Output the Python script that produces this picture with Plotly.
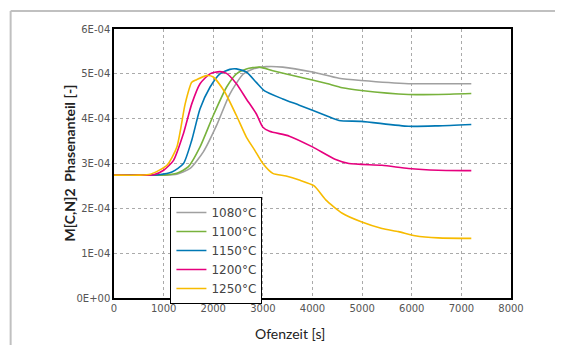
import plotly.graph_objects as go

# ---- data ----
labels = ["1080°C", "1100°C", "1150°C", "1200°C", "1250°C"]
colors = ["#a0a0a0", "#78b23c", "#0078b4", "#e6007e", "#f7bb00"]

t_1080 = [0, 500, 1000, 1267, 1534, 1800, 2067, 2334, 2600, 2800, 3067, 3400, 4000, 4534, 4981, 5934, 6534, 7200]
y_1080 = [2.74, 2.74, 2.74, 2.76, 2.89, 3.26, 3.85, 4.55, 4.99, 5.11, 5.16, 5.15, 5.04, 4.90, 4.85, 4.78, 4.78, 4.78]

t_1100 = [0, 500, 1000, 1267, 1500, 1734, 2000, 2267, 2467, 2667, 2934, 3200, 3734, 4267, 4600, 4981, 5934, 6534, 7200]
y_1100 = [2.74, 2.74, 2.74, 2.78, 2.93, 3.37, 4.07, 4.70, 5.00, 5.11, 5.15, 5.07, 4.93, 4.79, 4.69, 4.63, 4.54, 4.54, 4.56]

t_1150 = [0, 500, 900, 1167, 1400, 1567, 1734, 1934, 2134, 2334, 2467, 2667, 2867, 3034, 3400, 3734, 4267, 4534, 4981, 5934, 6534, 7200]
y_1150 = [2.74, 2.74, 2.75, 2.81, 3.00, 3.52, 4.22, 4.70, 5.00, 5.10, 5.11, 5.04, 4.81, 4.62, 4.44, 4.30, 4.07, 3.96, 3.94, 3.83, 3.84, 3.87]

t_1200 = [0, 500, 800, 1000, 1200, 1400, 1567, 1734, 1934, 2134, 2267, 2467, 2667, 2867, 3000, 3134, 3534, 4000, 4467, 4734, 5400, 5934, 6534, 7200]
y_1200 = [2.74, 2.74, 2.75, 2.85, 3.07, 3.67, 4.33, 4.78, 5.00, 5.05, 5.01, 4.78, 4.44, 4.11, 3.81, 3.72, 3.61, 3.37, 3.09, 3.00, 2.96, 2.89, 2.85, 2.84]

t_1250 = [0, 500, 734, 1067, 1267, 1434, 1567, 1667, 1867, 2000, 2234, 2467, 2667, 2834, 3000, 3200, 3467, 3734, 4034, 4267, 4600, 4981, 5400, 5734, 6067, 6534, 7200]
y_1250 = [2.74, 2.74, 2.76, 2.96, 3.37, 4.33, 4.81, 4.87, 4.96, 4.93, 4.59, 4.07, 3.59, 3.30, 3.00, 2.78, 2.72, 2.63, 2.50, 2.19, 1.89, 1.70, 1.55, 1.48, 1.39, 1.34, 1.33]

x_ticks = [0, 1000, 2000, 3000, 4000, 5000, 6000, 7000, 8000]
y_ticks = [0, 1e-4, 2e-4, 3e-4, 4e-4, 5e-4, 6e-4]
y_tick_text = ["0E+00", "1E-04", "2E-04", "3E-04", "4E-04", "5E-04", "6E-04"]

series = [(t_1080, y_1080), (t_1100, y_1100), (t_1150, y_1150), (t_1200, y_1200), (t_1250, y_1250)]

FONT = "Lato"
TFONT = "DejaVu Sans"

# page body has an 8px margin -> figure is placed 8px in; coordinates below
# are reference-pixel positions minus that offset
OFF = 8
W, H = 563 - OFF, 345 - OFF
L, R, T, B = 113.5 - OFF, 511 - OFF, 29 - OFF, 298 - OFF


def px(xp):
    return (xp - OFF - L) / (R - L)


def py(yp):
    return (B - (yp - OFF)) / (B - T)


fig = go.Figure()
for (t, y), name, c in zip(series, labels, colors):
    fig.add_trace(go.Scatter(
        x=t, y=[v * 1e-4 for v in y], mode="lines", name=name,
        line=dict(color=c, width=1.6, shape="spline", smoothing=0.6),
    ))

fig.update_layout(
    width=W, height=H,
    margin=dict(l=L, r=W - R, t=T, b=H - B, autoexpand=False),
    paper_bgcolor="white", plot_bgcolor="white",
    font=dict(family=TFONT, color="#555", size=10),
    showlegend=True,
    legend=dict(
        x=px(170), y=py(197), xanchor="left", yanchor="top",
        bordercolor="black", borderwidth=1, bgcolor="white",
        font=dict(family=TFONT, size=12, color="#444"),
        itemwidth=30, tracegroupgap=0,
    ),
    xaxis=dict(
        range=[0, 8000], tickvals=x_ticks, showgrid=True, gridcolor="#aaaaaa",
        griddash="dot", gridwidth=1, showline=True, linecolor="black", linewidth=1.5,
        mirror=True, ticks="", zeroline=False, tickfont=dict(size=10, color="#555"),
    ),
    yaxis=dict(
        range=[0, 6e-4], tickvals=y_ticks, ticktext=y_tick_text, showgrid=True,
        gridcolor="#aaaaaa", griddash="dot", gridwidth=1, showline=True,
        linecolor="black", linewidth=1.5, mirror=True, ticks="", zeroline=False,
        tickfont=dict(size=10, color="#555"),
    ),
    annotations=[
        dict(text="<b>M[C,N]2  Phasenanteil [-]</b>", xref="paper", yref="paper",
             x=px(68), y=py(163), textangle=-90,
             showarrow=False, font=dict(family=FONT, size=14, color="#222"),
             xanchor="center", yanchor="middle"),
        dict(text="Ofenzeit [s]", xref="paper", yref="paper",
             x=px(290), y=py(333),
             showarrow=False, font=dict(family=FONT, size=14, color="#222"),
             xanchor="center", yanchor="middle"),
    ],
    shapes=[
        dict(type="line", xref="paper", yref="paper",
             x0=px(10), x1=px(10), y0=py(345), y1=py(11),
             line=dict(color="#c0c0c0", width=2)),
        dict(type="line", xref="paper", yref="paper",
             x0=px(10), x1=px(563), y0=py(11), y1=py(11),
             line=dict(color="#c0c0c0", width=2)),
    ],
)

fig.write_html("out.html")
